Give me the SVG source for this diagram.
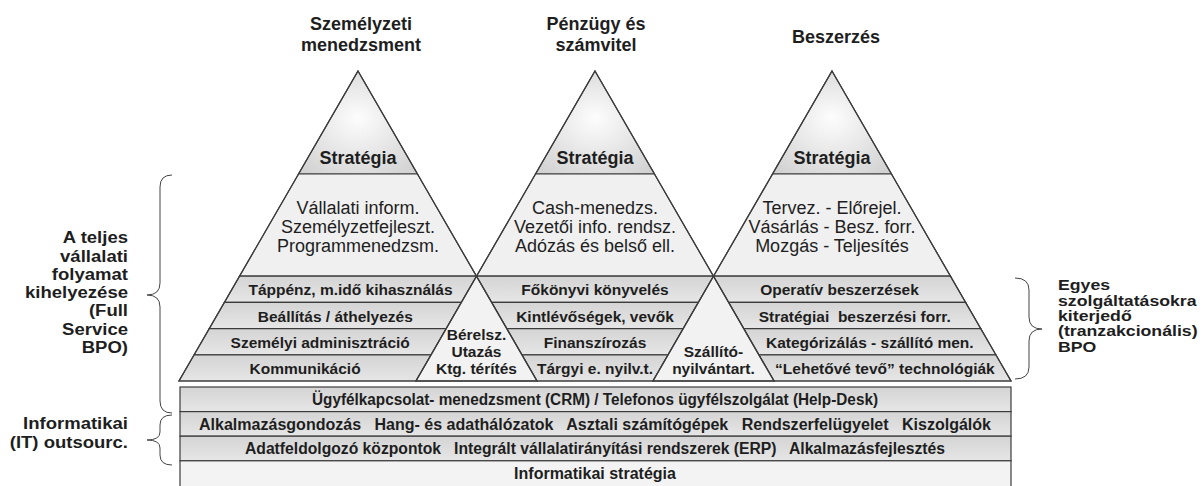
<svg xmlns="http://www.w3.org/2000/svg" width="1203" height="486" viewBox="0 0 1203 486">
  <defs>
    <radialGradient id="tipFill" cx="0.5" cy="0.5" r="0.65" fx="0.5" fy="0.45">
      <stop offset="0" stop-color="#fdfdfd"/>
      <stop offset="1" stop-color="#d2d2d2"/>
    </radialGradient>
    <linearGradient id="bandFill" x1="0" y1="0" x2="0" y2="1">
      <stop offset="0" stop-color="#d4d4d4"/>
      <stop offset="1" stop-color="#e6e6e6"/>
    </linearGradient>
  </defs>
  <style>
    .tip{fill:url(#tipFill)}
    .mid{fill:#f0f0f0}
    .band{fill:url(#bandFill)}
    .gap{fill:#f2f2f2}
    .base{fill:#f3f3f3}
    .edge{stroke:#3c3c3c;stroke-width:1.2;stroke-linejoin:miter}
    .outline{fill:none;stroke:#3c3c3c;stroke-width:1.2}
    text{font-family:"Liberation Sans",Arial,sans-serif;fill:#1e1e1e}
    .title{font-size:18px;font-weight:bold;text-anchor:middle}
    .strat{font-size:18px;font-weight:bold;text-anchor:middle}
    .body{font-size:18px;text-anchor:middle}
    .lbl{font-size:15.5px;font-weight:bold;text-anchor:middle;white-space:pre}
    .it{font-size:16px;font-weight:bold;text-anchor:middle;white-space:pre}
    .side{font-size:17px;font-weight:bold;text-anchor:end}
    .sideR{font-size:15px;font-weight:bold}
    .brace{fill:none;stroke:#444;stroke-width:1}
  </style>

  <!-- column headings -->
  <g id="titles">
    <text class="title" x="361" y="29.5">Személyzeti</text>
    <text class="title" x="361" y="50.5">menedzsment</text>
    <text class="title" x="596" y="30">Pénzügy és</text>
    <text class="title" x="596" y="50.5">számvitel</text>
    <text class="title" x="836" y="42.5">Beszerzés</text>
  </g>

  <!-- HR pyramid -->
  <g id="pyramid-hr">
    <polygon class="tip edge" points="358,71 417.47,174 298.53,174"/>
    <polygon class="mid edge" points="298.53,174 417.47,174 476.48,276.2 239.52,276.2"/>
    <polygon class="band edge" points="239.52,276.2 476.52,276.2 461.4,302.4 224.4,302.4"/>
    <polygon class="band edge" points="224.4,302.4 461.4,302.4 446.26,328.6 209.26,328.6"/>
    <polygon class="band edge" points="209.26,328.6 446.26,328.6 431.13,354.8 194.13,354.8"/>
    <polygon class="band edge" points="194.13,354.8 431.13,354.8 416,381 179,381"/>
    <text class="strat" x="358" y="164">Stratégia</text>
    <text class="body" x="358" y="213.5">Vállalati inform.</text>
    <text class="body" x="358" y="232.5">Személyzetfejleszt.</text>
    <text class="body" x="358" y="251.5">Programmenedzsm.</text>
    <text class="lbl" x="350.5" y="295.3">Táppénz, m.idő kihasználás</text>
    <text class="lbl" x="335.3" y="321.5">Beállítás / áthelyezés</text>
    <text class="lbl" x="320.2" y="347.7">Személyi adminisztráció</text>
    <text class="lbl" x="305.1" y="373.9">Kommunikáció</text>
  </g>

  <!-- finance pyramid -->
  <g id="pyramid-finance">
    <polygon class="tip edge" points="595,71 654.47,174 535.53,174"/>
    <polygon class="mid edge" points="535.53,174 654.47,174 713.48,276.2 476.52,276.2"/>
    <polygon class="band edge" points="476.48,276.2 713.52,276.2 698.4,302.4 491.6,302.4"/>
    <polygon class="band edge" points="491.6,302.4 698.4,302.4 683.26,328.6 506.74,328.6"/>
    <polygon class="band edge" points="506.74,328.6 683.26,328.6 668.13,354.8 521.87,354.8"/>
    <polygon class="band edge" points="521.87,354.8 668.13,354.8 653,381 537,381"/>
    <text class="strat" x="595" y="164">Stratégia</text>
    <text class="body" x="595" y="213.5">Cash-menedzs.</text>
    <text class="body" x="595" y="232.5">Vezetői info. rendsz.</text>
    <text class="body" x="595" y="251.5">Adózás és belső ell.</text>
    <text class="lbl" x="595" y="295.3">Főkönyvi könyvelés</text>
    <text class="lbl" x="595" y="321.5">Kintlévőségek, vevők</text>
    <text class="lbl" x="595" y="347.7">Finanszírozás</text>
    <text class="lbl" x="595" y="373.9">Tárgyi e. nyilv.t.</text>
  </g>

  <!-- procurement pyramid -->
  <g id="pyramid-procurement">
    <polygon class="tip edge" points="832,71 891.47,174 772.53,174"/>
    <polygon class="mid edge" points="772.53,174 891.47,174 950.48,276.2 713.52,276.2"/>
    <polygon class="band edge" points="713.48,276.2 950.48,276.2 965.6,302.4 728.6,302.4"/>
    <polygon class="band edge" points="728.6,302.4 965.6,302.4 980.74,328.6 743.74,328.6"/>
    <polygon class="band edge" points="743.74,328.6 980.74,328.6 995.87,354.8 758.87,354.8"/>
    <polygon class="band edge" points="758.87,354.8 995.87,354.8 1011,381 774,381"/>
    <text class="strat" x="832" y="164">Stratégia</text>
    <text class="body" x="832" y="213.5">Tervez. - Előrejel.</text>
    <text class="body" x="832" y="232.5">Vásárlás - Besz. forr.</text>
    <text class="body" x="832" y="251.5">Mozgás - Teljesítés</text>
    <text class="lbl" x="839.5" y="295.3">Operatív beszerzések</text>
    <text class="lbl" x="854.7" y="321.5">Stratégiai  beszerzési forr.</text>
    <text class="lbl" x="869.8" y="347.7">Kategórizálás - szállító men.</text>
    <text class="lbl" x="884.9" y="373.9">“Lehetővé tevő” technológiák</text>
  </g>

  <!-- shared areas where neighbouring pyramids overlap -->
  <g id="overlap-payroll">
    <polygon class="gap edge" points="476.5,276.2 537,381 416,381"/>
    <text class="lbl" x="476.5" y="340">Bérelsz.</text>
    <text class="lbl" x="476.5" y="357">Utazás</text>
    <text class="lbl" x="476.5" y="374">Ktg. térítés</text>
  </g>
  <g id="overlap-suppliers">
    <polygon class="gap edge" points="713.5,276.2 774,381 653,381"/>
    <text class="lbl" x="713.5" y="357">Szállító-</text>
    <text class="lbl" x="713.5" y="374">nyilvántart.</text>
  </g>

  <!-- pyramid outlines on top -->
  <g id="pyramid-outlines">
    <polygon class="outline" points="358,71 537,381 179,381"/>
    <polygon class="outline" points="595,71 774,381 416,381"/>
    <polygon class="outline" points="832,71 1011,381 653,381"/>
  </g>

  <!-- IT layers under the pyramids -->
  <g id="it-crm">
    <rect class="band edge" x="180" y="387" width="831" height="24.6"/>
    <text class="it" x="595" y="405" textLength="566" lengthAdjust="spacingAndGlyphs">Ügyfélkapcsolat- menedzsment (CRM) / Telefonos ügyfélszolgálat (Help-Desk)</text>
  </g>
  <g id="it-operations">
    <rect class="band edge" x="180" y="411.6" width="831" height="24.6"/>
    <text class="it" x="595" y="429.6" textLength="792" lengthAdjust="spacingAndGlyphs">Alkalmazásgondozás   Hang- és adathálózatok   Asztali számítógépek   Rendszerfelügyelet   Kiszolgálók</text>
  </g>
  <g id="it-systems">
    <rect class="band edge" x="180" y="436.2" width="831" height="24.6"/>
    <text class="it" x="595" y="454.2" textLength="700" lengthAdjust="spacingAndGlyphs">Adatfeldolgozó központok   Integrált vállalatirányítási rendszerek (ERP)   Alkalmazásfejlesztés</text>
  </g>
  <g id="it-strategy">
    <rect class="base edge" x="180" y="460.8" width="831" height="30"/>
    <text class="it" x="595" y="478.8">Informatikai stratégia</text>
  </g>

  <!-- scope labels (wide bold lettering) -->
  <g id="label-full-bpo" transform="translate(128,0) scale(1.09,1)">
    <text class="side" x="0" y="243.3">A teljes</text>
    <text class="side" x="0" y="261.6">vállalati</text>
    <text class="side" x="0" y="279.9">folyamat</text>
    <text class="side" x="0" y="298.2">kihelyezése</text>
    <text class="side" x="0" y="316.5">(Full</text>
    <text class="side" x="0" y="334.8">Service</text>
    <text class="side" x="0" y="353.1">BPO)</text>
  </g>
  <g id="label-it" transform="translate(128,0) scale(1.09,1)">
    <text class="side" x="0" y="429">Informatikai</text>
    <text class="side" x="0" y="448">(IT) outsourc.</text>
  </g>
  <g id="label-transactional" transform="translate(1058,0) scale(1.18,1)">
    <text class="sideR" x="0" y="290.4">Egyes</text>
    <text class="sideR" x="0" y="305.7">szolgáltatásokra</text>
    <text class="sideR" x="0" y="321">kiterjedő</text>
    <text class="sideR" x="0" y="336.3">(tranzakcionális)</text>
    <text class="sideR" x="0" y="351.6">BPO</text>
  </g>

  <!-- braces -->
  <g id="connectors">
    <path class="brace" d="M172,175 Q160,175 160,187 L160,283 Q160,295 147,295 Q160,295 160,307 L160,401 Q160,413 172,413"/>
    <path class="brace" d="M172,415 Q160,415 160,425 L160,432 Q160,440 147,440 Q160,440 160,448 L160,455 Q160,465 172,465"/>
    <path class="brace" d="M1015,278 Q1029,278 1029,290 L1029,317 Q1029,329 1042,329 Q1029,329 1029,341 L1029,367 Q1029,379 1015,379"/>
  </g>
</svg>
